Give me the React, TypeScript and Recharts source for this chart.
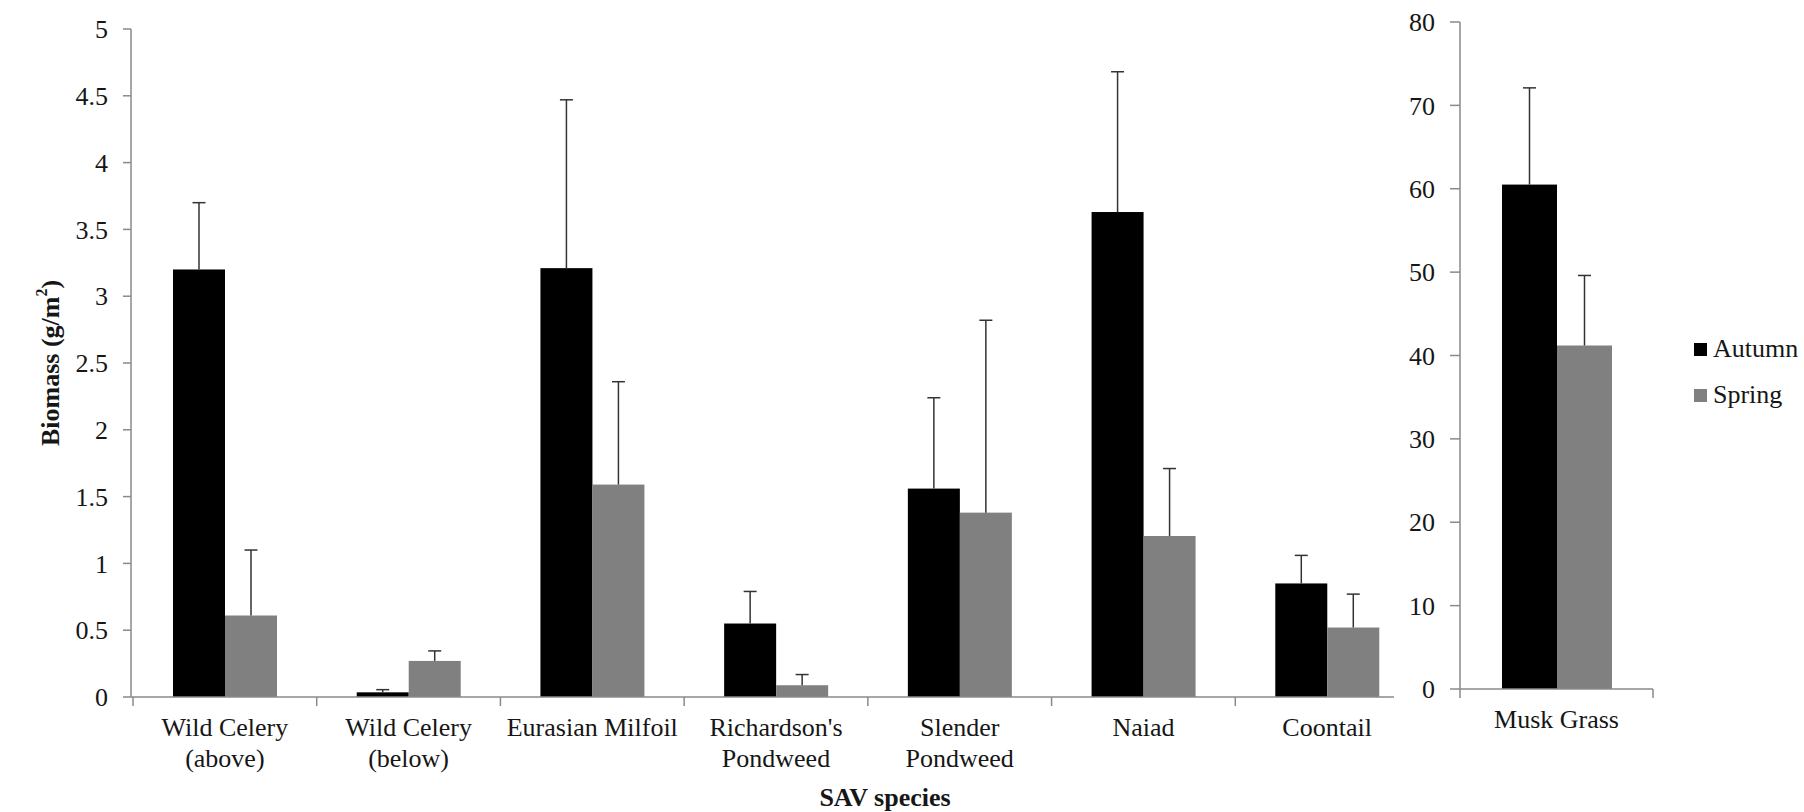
import React from 'react';
import { BarChart, Bar, XAxis, YAxis, Label, Legend } from 'recharts';

// left panel: g/m2 biomass by species
const species = [
  'Wild Celery\n(above)',
  'Wild Celery\n(below)',
  'Eurasian Milfoil',
  "Richardson's\nPondweed",
  'Slender\nPondweed',
  'Naiad',
  'Coontail',
];
const autumn = [3.2, 0.035, 3.21, 0.55, 1.56, 3.63, 0.85];
const autumnErr = [0.5, 0.02, 1.26, 0.24, 0.68, 1.05, 0.21];
const spring = [0.61, 0.27, 1.59, 0.088, 1.38, 1.205, 0.52];
const springErr = [0.49, 0.075, 0.77, 0.08, 1.44, 0.505, 0.25];
const leftTicks = [0, 0.5, 1, 1.5, 2, 2.5, 3, 3.5, 4, 4.5, 5];

// right panel: musk grass on its own scale
const muskSpecies = ['Musk Grass'];
const muskAutumn = [60.5];
const muskAutumnErr = [11.6];
const muskSpring = [41.2];
const muskSpringErr = [8.4];
const rightTicks = [0, 10, 20, 30, 40, 50, 60, 70, 80];

const seriesNames = ['Autumn', 'Spring'];
const seriesColors = ['#000000', '#808080'];

const FONT = '"Liberation Serif", "Times New Roman", serif';
const AXIS = '#8a8a8a';
const TEXT = '#161616';

const leftData = species.map((name, i) => ({
  name,
  autumn: autumn[i],
  autumnErr: autumnErr[i],
  spring: spring[i],
  springErr: springErr[i],
}));

const rightData = muskSpecies.map((name, i) => ({
  name,
  autumn: muskAutumn[i],
  autumnErr: muskAutumnErr[i],
  spring: muskSpring[i],
  springErr: muskSpringErr[i],
}));

// bar with an upward-only error whisker
const barWithError = (valueKey: string, errKey: string) => (props: any) => {
  const { x, y, width, height, fill, payload } = props;
  const v = payload[valueKey];
  const k = v > 0 ? height / v : 0;
  const top = y - payload[errKey] * k;
  const cx = x + width / 2;
  return (
    <g>
      <rect x={x} y={y} width={width} height={height} fill={fill} />
      <line x1={cx} x2={cx} y1={y} y2={top} stroke="#333" strokeWidth={1.5} />
      <line x1={cx - 6.5} x2={cx + 6.5} y1={top} y2={top} stroke="#333" strokeWidth={1.5} />
    </g>
  );
};

const CatTick = (props: any) => {
  const { x, y, payload, band, bothEnds } = props;
  const lines = String(payload.value).split('\n');
  return (
    <g>
      <line x1={x - band / 2} x2={x - band / 2} y1={y} y2={y + 9} stroke={AXIS} strokeWidth={1.5} />
      {bothEnds && (
        <line x1={x + band / 2} x2={x + band / 2} y1={y} y2={y + 9} stroke={AXIS} strokeWidth={1.5} />
      )}
      <text x={x} y={y + 39} textAnchor="middle" fontSize={26} fontFamily={FONT} fill={TEXT}>
        {lines.map((l, i) => (
          <tspan key={i} x={x} dy={i === 0 ? 0 : 31}>
            {l}
          </tspan>
        ))}
      </text>
    </g>
  );
};

const LegendBox = () => (
  <div style={{ fontFamily: FONT, fontSize: 26, color: TEXT }}>
    {seriesNames.map((n, i) => (
      <div key={n} style={{ display: 'flex', alignItems: 'center', height: 46 }}>
        <span style={{ width: 13, height: 13, background: seriesColors[i], marginRight: 6 }} />
        <span>{n}</span>
      </div>
    ))}
  </div>
);

const LEFT_W = 1394;
const LEFT_AXIS_W = 131;
const PAD_L = 2;
const PAD_R = -25;
const LEFT_BAND = (LEFT_W - LEFT_AXIS_W - PAD_L - PAD_R) / species.length;
const RIGHT_BAND = 193;

const tickStyle = { fontSize: 26, fill: TEXT, fontFamily: FONT };

export default function App() {
  return (
    <div style={{ position: 'absolute', left: 0, top: 0, width: 1804, height: 812, background: '#fff' }}>
      <div style={{ position: 'absolute', left: 0, top: 0 }}>
        <BarChart
          width={LEFT_W}
          height={812}
          data={leftData}
          margin={{ top: 29, right: 0, bottom: 0, left: 0 }}
          barGap={0}
          barSize={52}
        >
          <XAxis
            dataKey="name"
            height={115}
            interval={0}
            padding={{ left: PAD_L, right: PAD_R }}
            axisLine={{ stroke: AXIS, strokeWidth: 1.5 }}
            tickLine={false}
            tickSize={0}
            tickMargin={0}
            tick={(p: any) => <CatTick {...p} band={LEFT_BAND} />}
          >
            <Label
              content={({ viewBox }: any) => (
                <text
                  x={viewBox.x + 754}
                  y={viewBox.y + 109}
                  textAnchor="middle"
                  fontSize={26}
                  fontWeight="bold"
                  fontFamily={FONT}
                  fill={TEXT}
                >
                  SAV species
                </text>
              )}
            />
          </XAxis>
          <YAxis
            domain={[0, 5]}
            ticks={leftTicks}
            interval={0}
            width={LEFT_AXIS_W}
            axisLine={{ stroke: AXIS, strokeWidth: 1.5 }}
            tickLine={{ stroke: AXIS, strokeWidth: 1.5 }}
            tickSize={8}
            tickMargin={15}
            tick={tickStyle}
          >
            <Label
              content={({ viewBox }: any) => {
                const cx = viewBox.x + 50;
                const cy = viewBox.y + viewBox.height / 2;
                return (
                  <text
                    x={cx}
                    y={cy}
                    transform={`rotate(-90, ${cx}, ${cy})`}
                    textAnchor="middle"
                    dominantBaseline="central"
                    fontSize={26}
                    fontWeight="bold"
                    fontFamily={FONT}
                    fill={TEXT}
                  >
                    <tspan>Biomass (g/m</tspan>
                    <tspan fontSize={16} dy={-9}>2</tspan>
                    <tspan dy={9}>)</tspan>
                  </text>
                );
              }}
            />
          </YAxis>
          <Bar
            dataKey="autumn"
            name={seriesNames[0]}
            fill={seriesColors[0]}
            isAnimationActive={false}
            shape={barWithError('autumn', 'autumnErr')}
          />
          <Bar
            dataKey="spring"
            name={seriesNames[1]}
            fill={seriesColors[1]}
            isAnimationActive={false}
            shape={barWithError('spring', 'springErr')}
          />
        </BarChart>
      </div>

      <div style={{ position: 'absolute', left: 1400, top: 0 }}>
        <BarChart
          width={404}
          height={812}
          data={rightData}
          margin={{ top: 22, right: 151, bottom: 0, left: 0 }}
          barGap={0}
          barSize={55}
        >
          <XAxis
            dataKey="name"
            height={123}
            interval={0}
            axisLine={{ stroke: AXIS, strokeWidth: 1.5 }}
            tickLine={false}
            tickSize={0}
            tickMargin={0}
            tick={(p: any) => <CatTick {...p} band={RIGHT_BAND} bothEnds />}
          />
          <YAxis
            domain={[0, 80]}
            ticks={rightTicks}
            interval={0}
            width={60}
            axisLine={{ stroke: AXIS, strokeWidth: 1.5 }}
            tickLine={{ stroke: AXIS, strokeWidth: 1.5 }}
            tickSize={10}
            tickMargin={15}
            tick={tickStyle}
          />
          <Legend
            layout="vertical"
            align="center"
            verticalAlign="middle"
            content={() => <LegendBox />}
            wrapperStyle={{ left: 294, top: 326, width: 110 }}
          />
          <Bar
            dataKey="autumn"
            name={seriesNames[0]}
            fill={seriesColors[0]}
            isAnimationActive={false}
            shape={barWithError('autumn', 'autumnErr')}
          />
          <Bar
            dataKey="spring"
            name={seriesNames[1]}
            fill={seriesColors[1]}
            isAnimationActive={false}
            shape={barWithError('spring', 'springErr')}
          />
        </BarChart>
      </div>
    </div>
  );
}
